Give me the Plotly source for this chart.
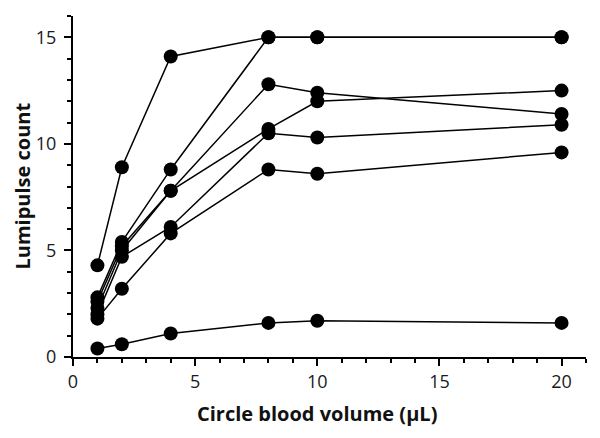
import plotly.graph_objects as go

volume = [1, 2, 4, 8, 10, 20]
s1 = [4.3, 8.9, 14.1, 15.0, 15.0, 15.0]
s2 = [2.8, 5.4, 8.8, 15.0, 15.0, 15.0]
s3 = [2.6, 5.2, 7.8, 12.8, 12.4, 11.4]
s4 = [2.3, 5.0, 7.8, 10.7, 12.0, 12.5]
s5 = [2.0, 4.7, 6.1, 10.5, 10.3, 10.9]
s6 = [1.8, 3.2, 5.8, 8.8, 8.6, 9.6]
s7 = [0.4, 0.6, 1.1, 1.6, 1.7, 1.6]
series = [s1, s2, s3, s4, s5, s6, s7]

x_ticks = [0, 5, 10, 15, 20]
y_ticks = [0, 5, 10, 15]

fig = go.Figure()
for s in series:
    fig.add_trace(go.Scatter(
        x=volume, y=s, mode="lines+markers",
        line=dict(color="black", width=1.5),
        marker=dict(color="black", size=14),
        showlegend=False, cliponaxis=False,
    ))

tickfont = dict(family="Open Sans", size=18, color="#1a1a1a")
axis_common = dict(
    showgrid=False, zeroline=False, showline=True, linecolor="black", linewidth=2,
    ticks="outside", ticklen=7, tickwidth=2, tickcolor="black",
    tickfont=tickfont,
    minor=dict(ticks="outside", ticklen=4, tickwidth=1.5, tickcolor="black", dtick=1, showgrid=False),
)
fig.update_xaxes(range=[0, 21], tickvals=x_ticks, **axis_common)
fig.update_yaxes(range=[0, 16], tickvals=y_ticks, ticklabelstandoff=4, **axis_common)

titlefont = dict(family="Open Sans", size=20, color="#111", weight="bold")
# page body adds an 8px offset, so the figure is shrunk and margins shifted
L, R, T, B = 65, 14, 8, 81
W, H = 592, 430
pw, ph = W - L - R, H - T - B
fig.update_layout(
    width=W, height=H,
    margin=dict(l=L, r=R, t=T, b=B),
    plot_bgcolor="white", paper_bgcolor="white",
    annotations=[
        dict(text="Circle blood volume (µL)", x=(317 - 8 - L) / pw, y=-(413 - 357) / ph,
             xref="paper", yref="paper", showarrow=False, font=titlefont,
             xanchor="center", yanchor="middle"),
        dict(text="Lumipulse count", x=-(73 - 22) / pw, y=0.5, textangle=-90,
             xref="paper", yref="paper", showarrow=False, font=titlefont,
             xanchor="center", yanchor="middle"),
    ],
)
fig.write_html("out.html")
